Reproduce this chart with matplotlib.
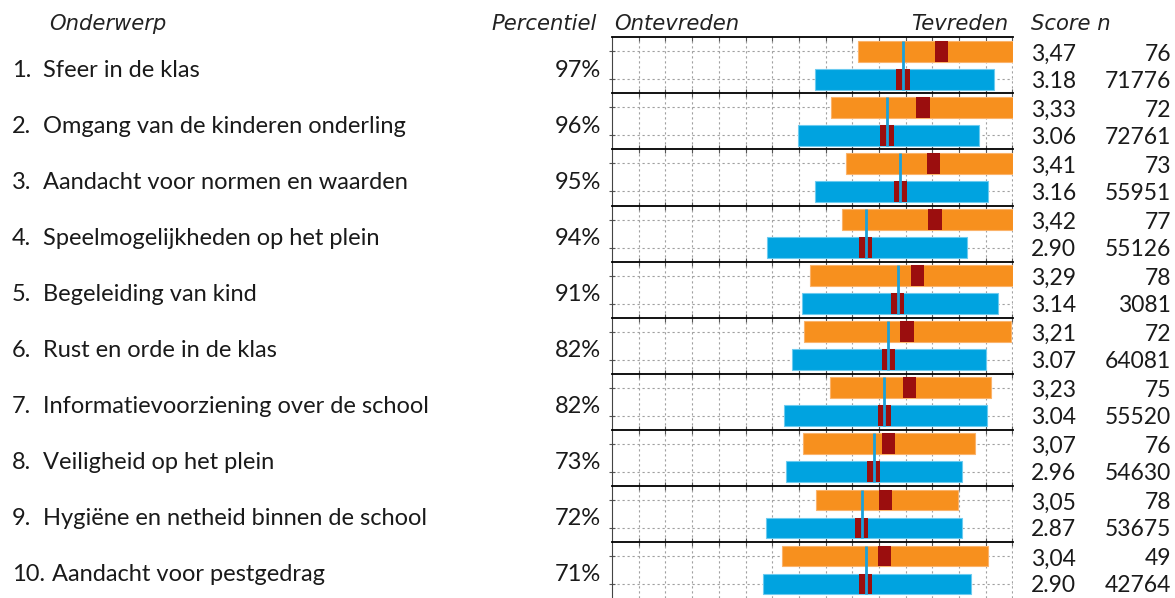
import matplotlib.pyplot as plt
import numpy as np

# Onderwerpen, percentielen en scores (school vs. benchmark)
onderwerpen = ['Sfeer in de klas',
               'Omgang van de kinderen onderling',
               'Aandacht voor normen en waarden',
               'Speelmogelijkheden op het plein',
               'Begeleiding van kind',
               'Rust en orde in de klas',
               'Informatievoorziening over de school',
               'Veiligheid op het plein',
               'Hygiëne en netheid binnen de school',
               'Aandacht voor pestgedrag']
percentiel = [97, 96, 95, 94, 91, 82, 82, 73, 72, 71]

school_score = [3.47, 3.33, 3.41, 3.42, 3.29, 3.21, 3.23, 3.07, 3.05, 3.04]
school_n = [76, 72, 73, 77, 78, 72, 75, 76, 78, 49]
school_lo = [2.84, 2.64, 2.75, 2.72, 2.48, 2.44, 2.63, 2.43, 2.53, 2.27]
school_hi = [4.00, 4.00, 4.00, 4.00, 4.00, 3.99, 3.84, 3.72, 3.59, 3.82]

bench_score = [3.18, 3.06, 3.16, 2.90, 3.14, 3.07, 3.04, 2.96, 2.87, 2.90]
bench_n = [71776, 72761, 55951, 55126, 3081, 64081, 55520, 54630, 53675, 42764]
bench_lo = [2.52, 2.39, 2.52, 2.16, 2.42, 2.35, 2.29, 2.30, 2.15, 2.13]
bench_hi = [3.86, 3.75, 3.82, 3.66, 3.89, 3.80, 3.81, 3.62, 3.62, 3.69]

ORANJE = '#F7901E'
BLAUW = '#00A3E0'
DONKERROOD = '#9B0E0E'
W, H = 1175, 598

plt.rcParams['font.family'] = ['Lato', 'DejaVu Sans']

fig, axes = plt.subplots(len(onderwerpen), 1, figsize=(W / 100, H / 100), dpi=100, sharex=True)
fig.subplots_adjust(left=612 / W, right=1012.5 / W, top=1 - 37.3 / H, bottom=0, hspace=0)

bar_h = 0.74
mw = 0.1  # breedte van de score-markering
fs = 17

for i, ax in enumerate(axes):
    # school (boven) en benchmark (onder)
    ax.barh(0.5, school_hi[i] - school_lo[i], left=school_lo[i], height=bar_h,
            color=ORANJE, edgecolor='#FBB36A', linewidth=0.8, zorder=2)
    ax.barh(1.5, bench_hi[i] - bench_lo[i], left=bench_lo[i], height=bar_h,
            color=BLAUW, edgecolor='#6CCBF0', linewidth=0.8, zorder=2)
    ax.barh(0.5, mw, left=school_score[i] - mw / 2, height=bar_h, color=DONKERROOD, zorder=3)
    ax.barh(1.5, mw, left=bench_score[i] - mw / 2, height=bar_h, color=DONKERROOD, zorder=3)
    ax.vlines(bench_score[i], 0.5 - bar_h / 2, 1.5 + bar_h / 2, color='#1BA1DA', lw=2, zorder=4)

    ax.set_xlim(1, 4)
    ax.set_ylim(2, 0)
    ax.set_xticks(np.arange(1.2, 4.01, 0.2))
    ax.set_yticks([0.5, 1.5])
    ax.grid(True, color='#A0A0A0', linestyle=(0, (2, 2.5)), linewidth=0.8, zorder=0)
    ax.set_axisbelow(True)
    ax.tick_params(axis='x', direction='in', top=True, bottom=(i < len(axes) - 1),
                   length=3, color='#555555', labelbottom=False)
    ax.tick_params(axis='y', direction='inout', length=4, color='#555555', labelleft=False)
    for s in ['right', 'bottom']:
        ax.spines[s].set_visible(False)
    ax.spines['top'].set_linewidth(1.3)
    ax.spines['left'].set_color('#444444')

    # teksten naast de rij
    pos = ax.get_position()
    yc = pos.y0 + pos.height / 2 - 5 / H
    y_school = pos.y1 - pos.height / 4 - 3 / H
    y_bench = pos.y0 + pos.height / 4 - 2 / H
    fig.text(12 / W, yc, f'{i + 1}.', fontsize=fs, color='#1a1a1a', va='center')
    fig.text((43 if i < 9 else 52) / W, yc, onderwerpen[i], fontsize=fs,
             color='#1a1a1a', va='center')
    fig.text(601 / W, yc, f'{percentiel[i]}%', fontsize=fs, color='#1a1a1a',
             va='center', ha='right')
    fig.text(1031 / W, y_school, f'{school_score[i]:.2f}'.replace('.', ','),
             fontsize=16.5, color='#1a1a1a', va='center')
    fig.text(1171 / W, y_school, f'{school_n[i]}', fontsize=16.5, color='#1a1a1a',
             va='center', ha='right')
    fig.text(1031 / W, y_bench, f'{bench_score[i]:.2f}', fontsize=16.5,
             color='#1a1a1a', va='center')
    fig.text(1171 / W, y_bench, f'{bench_n[i]}', fontsize=16.5, color='#1a1a1a',
             va='center', ha='right')

# kolomkoppen
kop = dict(fontsize=15.2, style='italic', color='#222222', va='center',
           family=['DejaVu Sans'])
yk = 1 - 24 / H
fig.text(49 / W, yk, 'Onderwerp', **kop)
fig.text(597 / W, yk, 'Percentiel', ha='right', **kop)
fig.text(614 / W, yk, 'Ontevreden', **kop)
fig.text(1008 / W, yk, 'Tevreden', ha='right', **kop)
fig.text(1031 / W, yk, 'Score n', **kop)

fig.savefig('out.png', dpi=100)
